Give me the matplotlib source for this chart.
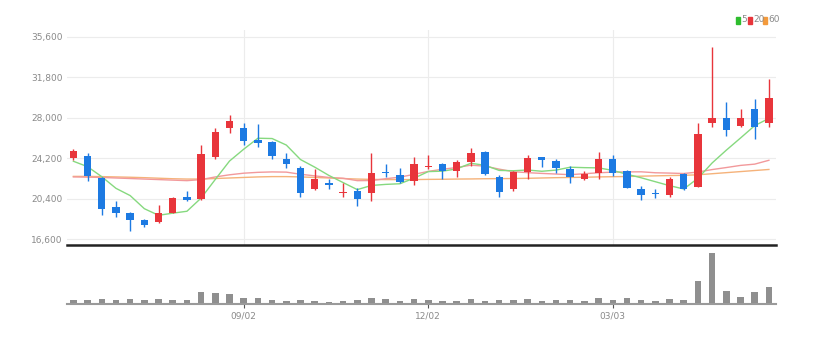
import matplotlib.pyplot as plt
from matplotlib.patches import Rectangle
import numpy as np

# daily candles (price in won)
opens = [24200, 24400, 22350, 19650, 19100, 18400, 18200, 19100, 20550, 20400,
         24300, 27000, 27000, 25900, 25700, 24100, 23250, 21350, 21900, 20950,
         21150, 20900, 22900, 22600, 22100, 23350, 23650, 23050, 23850, 24800,
         22450, 21300, 22900, 24300, 23900, 23150, 22250, 22800, 24100, 23050,
         21300, 20950, 20750, 22700, 21550, 27500, 27950, 27250, 28850, 27500]
highs = [25050, 24700, 22400, 20150, 19150, 18550, 19800, 20550, 21100, 25450,
         27000, 28250, 27500, 27400, 25850, 24650, 23450, 23150, 22300, 21850,
         21450, 24650, 23700, 23250, 24350, 24500, 23800, 24050, 25150, 24850,
         22600, 23050, 24550, 24350, 24100, 23450, 23050, 24750, 24500, 23100,
         21600, 21300, 22450, 22800, 27500, 34600, 29450, 28800, 29750, 31600]
lows = [24050, 22100, 18900, 18650, 17400, 17750, 18150, 19050, 20200, 20300,
        24150, 26600, 25450, 25300, 24100, 23300, 20550, 21200, 21300, 20600,
        19700, 20200, 22450, 21850, 21700, 23150, 22250, 22450, 23500, 22650,
        20550, 21150, 22250, 23400, 22850, 21850, 22200, 22300, 22550, 21400,
        20300, 20500, 20600, 21250, 21500, 27100, 26300, 27100, 26000, 27100]
closes = [24900, 22550, 19400, 19100, 18400, 17900, 19100, 20500, 20250, 24600,
          26650, 27700, 25850, 25600, 24400, 23650, 20900, 22300, 21700, 21050,
          20350, 22850, 22800, 22000, 23650, 23450, 23050, 23850, 24650, 22700,
          21050, 22900, 24200, 24050, 23250, 22400, 22700, 24100, 22850, 21450,
          20750, 20850, 22250, 21300, 26450, 27950, 26850, 27950, 27100, 29850]

# moving averages
ma5 = [23920, 23410, 22470, 21380, 20700, 19470, 18850, 19050, 19230, 20470,
       22220, 23940, 25050, 26080, 26050, 25440, 24080, 23370, 22590, 21920,
       21260, 21650, 21750, 21810, 22330, 22950, 22990, 23200, 23730, 23540,
       23060, 23030, 23100, 22980, 23090, 23360, 23320, 23300, 23060, 22700,
       22370, 22000, 21630, 21320, 22320, 23760, 24960, 26100, 27260, 27940]
ma20 = [22450, 22430, 22400, 22350, 22300, 22250, 22200, 22150, 22100, 22200,
        22450, 22650, 22800, 22880, 22920, 22900, 22700, 22550, 22400, 22325,
        22100, 22110, 22280, 22430, 22690, 22970, 23170, 23330, 23550, 23460,
        23180, 22940, 22850, 22780, 22720, 22660, 22750, 22840, 22900, 22920,
        22930, 22840, 22810, 22770, 22910, 23140, 23330, 23530, 23650, 24010]
ma60 = [22500, 22500, 22480, 22450, 22420, 22380, 22330, 22280, 22250, 22250,
        22300, 22350, 22400, 22450, 22480, 22480, 22450, 22400, 22350, 22300,
        22250, 22220, 22200, 22200, 22200, 22220, 22230, 22250, 22260, 22280,
        22290, 22300, 22320, 22350, 22380, 22400, 22420, 22450, 22470, 22490,
        22520, 22550, 22580, 22600, 22650, 22750, 22850, 22950, 23050, 23150]

volume = [10, 10, 12, 10, 12, 10, 12, 10, 10, 35, 30, 27, 15, 15, 10, 7, 10, 7, 5, 7,
          10, 17, 12, 7, 12, 10, 7, 7, 12, 7, 10, 10, 12, 7, 10, 10, 7, 15, 10, 15,
          10, 7, 12, 10, 68, 152, 38, 20, 33, 50]

date_ticks = [12, 25, 38]
date_labels = ['09/02', '12/02', '03/03']
price_ticks = [16600, 20400, 24200, 28000, 31800, 35600]

FONT = ['Liberation Sans Narrow', 'DejaVu Sans']
RED = '#e8353b'
BLUE = '#1d7ae2'
GRAY = '#8a8a8a'

W, H = 820, 341
fig = plt.figure(figsize=(W / 100, H / 100), dpi=100)

x0, x1 = 67, 776
ax = fig.add_axes([x0 / W, (H - 245) / H, (x1 - x0) / W, (245 - 30) / H])
axv = fig.add_axes([x0 / W, (H - 303.5) / H, (x1 - x0) / W, (303.5 - 245) / H])

n = len(closes)
idx = np.arange(n)
o = np.array(opens)
c = np.array(closes)
up = c >= o
cols = np.where(up, RED, BLUE)

# grid
for p in price_ticks:
    ax.axhline(p, color='#ececec', lw=0.8, zorder=0)
for t in date_ticks:
    ax.axvline(t, color='#ececec', lw=0.8, zorder=0)

# moving averages
ax.plot(idx, ma60, color='#f5b27a', lw=1.0, zorder=1)
ax.plot(idx, ma20, color='#f2999b', lw=1.0, zorder=1)
ax.plot(idx, ma5, color='#86d97f', lw=1.0, zorder=1)

# candles
ax.vlines(idx, lows, highs, colors=cols, lw=1.0, zorder=2)
body = np.maximum(np.abs(c - o), 90)
ax.bar(idx, body, bottom=np.minimum(o, c), width=0.52, color=cols, zorder=3)

ax.set_xlim(-0.45, 49.5)
ax.set_ylim(16065, 36230)
ax.set_yticks(price_ticks)
ax.set_yticklabels([f'{p:,}' for p in price_ticks], family=FONT, fontsize=6.5, color=GRAY)
ax.tick_params(axis='y', length=0, pad=3)
ax.set_xticks([])
for s in ax.spines.values():
    s.set_visible(False)

# legend
ly = 20
for lab, col, px in [('5', '#2ebd2e', 736), ('20', '#e8353b', 748), ('60', '#f39a3c', 763)]:
    fig.patches.append(Rectangle((px / W, (H - ly - 3.5) / H), 4 / W, 7 / H,
                                 transform=fig.transFigure, color=col))
    fig.text((px + 5.5) / W, 1 - ly / H, lab, color=GRAY, fontsize=6.5, family=FONT, va='center')

# volume
axv.bar(idx, volume, width=0.46, color='#8f8f8f', zorder=2)
axv.set_xlim(-0.45, 49.5)
axv.set_ylim(0, 175)
axv.set_yticks([])
axv.set_xticks(date_ticks)
axv.set_xticklabels(date_labels, family=FONT, fontsize=6.5, color=GRAY)
axv.tick_params(axis='x', length=3, width=0.8, color='#555555', pad=3)
for s in ['left', 'right']:
    axv.spines[s].set_visible(False)
axv.spines['top'].set_color('#222222')
axv.spines['top'].set_linewidth(1.8)
axv.spines['bottom'].set_color('#9a9a9a')
axv.spines['bottom'].set_linewidth(1.5)

fig.savefig('out.png', dpi=100)
